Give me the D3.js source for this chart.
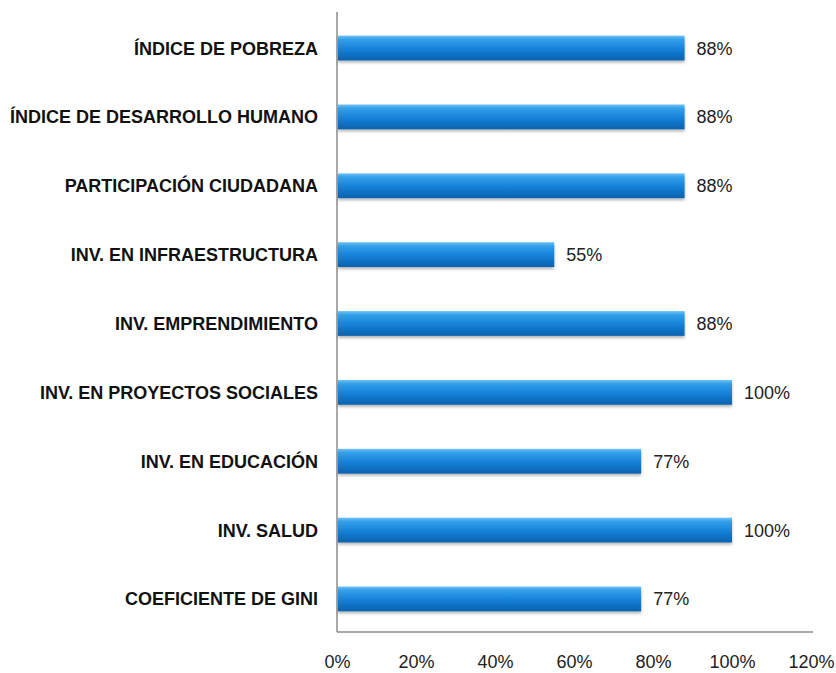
<!DOCTYPE html>
<html>
<head>
<meta charset="utf-8">
<script src="https://cdnjs.cloudflare.com/ajax/libs/d3/7.8.5/d3.min.js"></script>
<style>
  body { margin: 0; background: #fff; }
  text { font-family: "Liberation Sans", Arial, sans-serif; }
</style>
</head>
<body>
<div id="chart"></div>
<script>
var categories = [
  "ÍNDICE DE POBREZA",
  "ÍNDICE DE DESARROLLO HUMANO",
  "PARTICIPACIÓN CIUDADANA",
  "INV. EN INFRAESTRUCTURA",
  "INV. EMPRENDIMIENTO",
  "INV. EN PROYECTOS SOCIALES",
  "INV. EN EDUCACIÓN",
  "INV. SALUD",
  "COEFICIENTE DE GINI"
];
var values = [0.88, 0.88, 0.88, 0.55, 0.88, 1.00, 0.77, 1.00, 0.77];
var tickValues = [0, 0.2, 0.4, 0.6, 0.8, 1.0, 1.2];

var svgWidth = 836;
var svgHeight = 673;

var margin = { top: 15, right: 24, bottom: 42, left: 337 };

var svg = d3.select("#chart")
  .append("svg")
  .attr("width", svgWidth)
  .attr("height", svgHeight);

// gradient + shadow for the bevelled bars
var defs = svg.append("defs");
var grad = defs.append("linearGradient")
  .attr("id", "barGrad")
  .attr("x1", 0).attr("y1", 0).attr("x2", 0).attr("y2", 1);
grad.append("stop").attr("offset", "0%").attr("stop-color", "#6cc2f7");
grad.append("stop").attr("offset", "15%").attr("stop-color", "#34a0ea");
grad.append("stop").attr("offset", "55%").attr("stop-color", "#1480d8");
grad.append("stop").attr("offset", "100%").attr("stop-color", "#0a62ad");

var shadow = defs.append("filter")
  .attr("id", "shadow")
  .attr("x", "-5%").attr("y", "-30%").attr("width", "110%").attr("height", "170%");
shadow.append("feDropShadow")
  .attr("dx", 0).attr("dy", 2)
  .attr("stdDeviation", 1.5)
  .attr("flood-color", "#000")
  .attr("flood-opacity", 0.3);

var chartGroup = svg.append("g")
  .attr("transform", `translate(${margin.left}, ${margin.top})`);

var xScale = d3.scaleLinear()
  .domain([0, 1.2])
  .range([0, 474]);

var yScale = d3.scaleBand()
  .domain(categories)
  .range([0, 617])
  .paddingInner(0.64)
  .paddingOuter(0.3);

// axes lines
chartGroup.append("line")
  .attr("x1", 0).attr("x2", 0)
  .attr("y1", -3).attr("y2", 617)
  .attr("stroke", "#8c8c8c")
  .attr("stroke-width", 1.5);

chartGroup.append("line")
  .attr("x1", 0).attr("x2", 476)
  .attr("y1", 617).attr("y2", 617)
  .attr("stroke", "#8c8c8c")
  .attr("stroke-width", 1.5);

// bottom axis labels
var bottomAxis = d3.axisBottom(xScale)
  .tickValues(tickValues)
  .tickFormat(d3.format(".0%"))
  .tickSize(0)
  .tickPadding(23);

var xAxis = chartGroup.append("g")
  .attr("transform", `translate(0, 617)`)
  .call(bottomAxis);
xAxis.select(".domain").remove();
xAxis.selectAll("text")
  .attr("font-size", 18)
  .attr("fill", "#222")
  .style("font-family", "\"Liberation Sans\", Arial, sans-serif");

// bars
chartGroup.selectAll("rect.bar")
  .data(values)
  .enter()
  .append("rect")
  .attr("class", "bar")
  .attr("x", 1)
  .attr("y", (d, i) => yScale(categories[i]))
  .attr("width", d => xScale(d) - 1)
  .attr("height", yScale.bandwidth())
  .attr("fill", "url(#barGrad)")
  .attr("filter", "url(#shadow)");

// value labels
chartGroup.selectAll("text.value")
  .data(values)
  .enter()
  .append("text")
  .attr("class", "value")
  .attr("x", d => xScale(d) + 12)
  .attr("y", (d, i) => yScale(categories[i]) + yScale.bandwidth() / 2)
  .attr("dy", "0.36em")
  .attr("font-size", 18)
  .attr("fill", "#222")
  .text(d => Math.round(d * 100) + "%");

// category labels
chartGroup.selectAll("text.cat")
  .data(categories)
  .enter()
  .append("text")
  .attr("class", "cat")
  .attr("x", -19)
  .attr("y", d => yScale(d) + yScale.bandwidth() / 2)
  .attr("dy", "0.36em")
  .attr("text-anchor", "end")
  .attr("font-size", 18)
  .attr("font-weight", "bold")
  .attr("fill", "#111")
  .text(d => d);
</script>
</body>
</html>
